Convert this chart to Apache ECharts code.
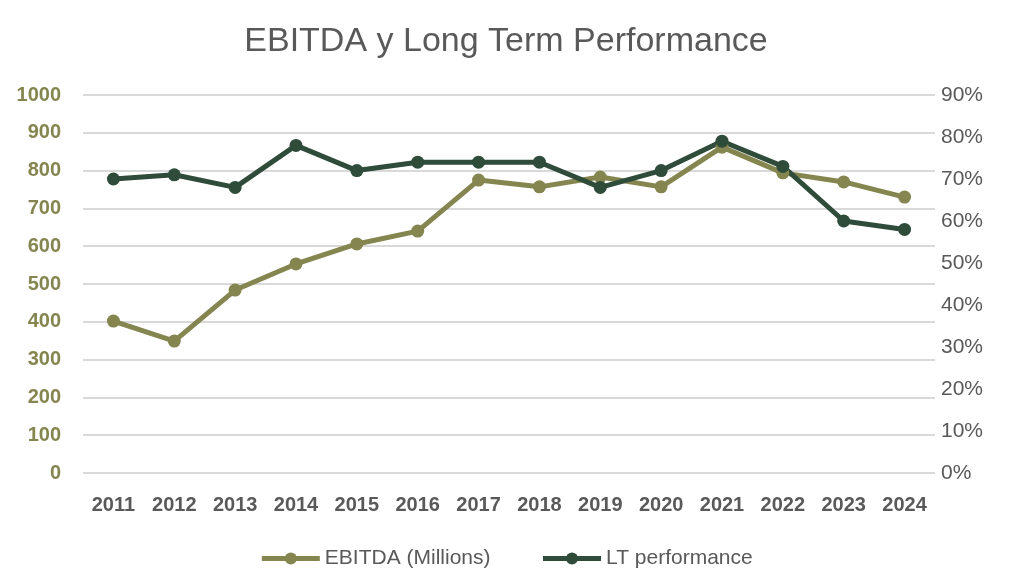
<!DOCTYPE html>
<html><head><meta charset="utf-8">
<script src="https://cdn.jsdelivr.net/npm/echarts@6/dist/echarts.min.js"></script>
<style>html,body{margin:0;padding:0;background:#fff}#c{width:1012px;height:580px}</style>
</head><body><div id="c"></div>
<script>
const years = ['2011','2012','2013','2014','2015','2016','2017','2018','2019','2020','2021','2022','2023','2024'];
const ebitda = [402, 349, 484, 553, 606, 640, 775, 757, 783, 757, 862, 794, 770, 730];
const ltPerf = [70, 71, 68, 78, 72, 74, 74, 74, 68, 72, 79, 73, 60, 58];
const olive = '#84854f', dark = '#2f4b3a';
const font = 'Liberation Sans, Arial, sans-serif';
const chart = echarts.init(document.getElementById('c'));
chart.setOption({
  animation: false,
  title: { text: 'EBITDA y Long Term Performance', left: 'center', top: 20,
    textStyle: { fontFamily: font, fontSize: 34, fontWeight: 'normal', color: '#595959' } },
  legend: { bottom: 6, itemWidth: 58, itemHeight: 15, itemGap: 50,
    lineStyle: { width: 5 },
    textStyle: { fontFamily: font, fontSize: 21, color: '#595959' },
    data: ['EBITDA (Millions)', 'LT performance'] },
  grid: { left: 83, right: 77, top: 95, bottom: 107 },
  xAxis: { type: 'category', data: years, boundaryGap: true,
    axisLine: { show: false }, axisTick: { show: false },
    axisLabel: { fontFamily: font, fontSize: 20, fontWeight: 'bold', color: '#595959', margin: 22 } },
  yAxis: [
    { type: 'value', min: 0, max: 1000, interval: 100,
      axisLine: { show: false }, axisTick: { show: false },
      axisLabel: { fontFamily: font, fontSize: 20, fontWeight: 'bold', color: olive, margin: 22,
        formatter: v => String(v) },
      splitLine: { lineStyle: { color: '#d9d9d9', width: 2 } } },
    { type: 'value', min: 0, max: 90, interval: 10,
      axisLine: { show: false }, axisTick: { show: false },
      axisLabel: { fontFamily: font, fontSize: 21, color: '#595959', margin: 6, formatter: '{value}%' },
      splitLine: { show: false } }
  ],
  series: [
    { name: 'EBITDA (Millions)', type: 'line', data: ebitda, yAxisIndex: 0,
      symbol: 'circle', symbolSize: 13, itemStyle: { color: olive },
      lineStyle: { color: olive, width: 5 } },
    { name: 'LT performance', type: 'line', data: ltPerf, yAxisIndex: 1,
      symbol: 'circle', symbolSize: 13, itemStyle: { color: dark },
      lineStyle: { color: dark, width: 5 } }
  ]
});
</script></body></html>
